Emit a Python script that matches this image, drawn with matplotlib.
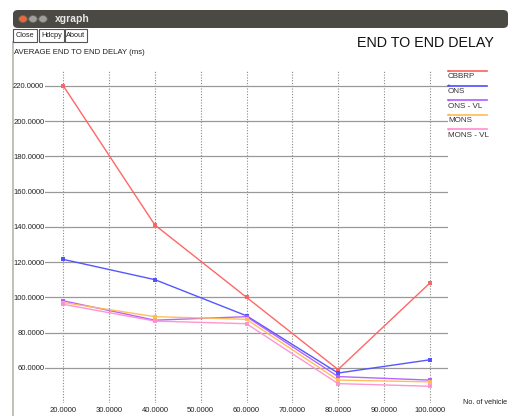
import matplotlib
matplotlib.use('Agg')
import matplotlib.pyplot as plt
from matplotlib.patches import Rectangle, Circle, FancyBboxPatch
from matplotlib.lines import Line2D

plt.rcParams['font.family'] = ['Liberation Sans', 'DejaVu Sans']

vehicles = [20, 40, 60, 80, 100]
cbbrp = [220, 141, 100, 59, 108]
ons = [121.5, 110, 89.5, 57, 64.5]
ons_vl = [98, 87, 89, 55, 53]
mons = [97, 89, 87.5, 53, 52]
mons_vl = [96, 86.5, 85, 51, 49.5]

series_names = ['CBBRP', 'ONS', 'ONS - VL', 'MONS', 'MONS - VL']
series_colors = ['#ff5f5f', '#4d4dff', '#b45aff', '#ffbb55', '#ff8fcf']
x_ticks = [20, 30, 40, 50, 60, 70, 80, 90, 100]
y_ticks = [60, 80, 100, 120, 140, 160, 180, 200, 220]

W, H = 508, 416
fig = plt.figure(figsize=(W / 100, H / 100), dpi=100)
fig.patch.set_facecolor('white')

def fx(px):
    return px / W

def fy(py):
    return 1 - py / H

# window chrome: title bar, buttons, left border
bar = FancyBboxPatch((fx(13), fy(28)), fx(W) - fx(13), fy(10) - fy(28),
                     boxstyle='round,pad=0,rounding_size=0.01',
                     transform=fig.transFigure, facecolor='#4a4944',
                     edgecolor='none', zorder=1)
fig.patches.append(bar)
for cx, col in [(23, '#e8683a'), (33, '#a09f99'), (43, '#a09f99')]:
    fig.patches.append(Circle((fx(cx), fy(19)), 4.2 / W, transform=fig.transFigure,
                              facecolor=col, edgecolor='#6a6964', lw=0.5, zorder=2))
fig.text(fx(55), fy(19.5), 'xgraph', color='#e8e8e8', fontsize=7.5,
         fontweight='bold', va='center', ha='left')

for x0, x1, label in [(13, 37, 'Close'), (39, 64, 'Hdcpy'), (65, 87, 'About')]:
    fig.patches.append(Rectangle((fx(x0), fy(42)), fx(x1) - fx(x0), fy(29) - fy(42),
                                 transform=fig.transFigure, facecolor='white',
                                 edgecolor='#555555', lw=0.8))
    fig.text(fx((x0 + x1) / 2), fy(35.5), label, fontsize=5.3, ha='center',
             va='center', color='#222222')

fig.lines.append(Line2D([fx(13), fx(13)], [fy(42), 0], transform=fig.transFigure,
                        color='#b8b4a8', lw=1.2, zorder=-1))

fig.text(fx(14), fy(53), 'AVERAGE END TO END DELAY (ms)', fontsize=5.6,
         ha='left', va='center', color='#222222')
fig.text(fx(494), fy(43), 'END TO END DELAY', fontsize=10.3,
         ha='right', va='center', color='#111111')
fig.text(fx(463), fy(402), 'No. of vehicle', fontsize=5.3,
         ha='left', va='center', color='#222222')

ax = fig.add_axes([fx(45), fy(403), fx(448) - fx(45), fy(70) - fy(403)])
ax.set_facecolor('white')
ax.set_xlim(16.0, 104)
ax.set_ylim(40, 229)
for s in ax.spines.values():
    s.set_visible(False)

ax.set_xticks(x_ticks)
ax.set_yticks(y_ticks)
ax.set_xticklabels([f'{v:.4f}' for v in x_ticks])
ax.set_yticklabels([f'{v:.4f}' for v in y_ticks])
ax.tick_params(axis='both', length=0, labelsize=5.5, labelcolor='#222222')
ax.tick_params(axis='y', pad=0.5)
ax.tick_params(axis='x', pad=3)
ax.xaxis.grid(True, color='#888888', lw=0.8, ls=(0, (1, 1.5)))
ax.yaxis.grid(True, color='#999999', lw=0.9, ls='-')
ax.set_axisbelow(True)

all_series = [cbbrp, ons, ons_vl, mons, mons_vl]
for vals, col in zip(all_series, series_colors):
    ax.plot(vehicles, vals, color=col, lw=1.0, marker='s', markersize=2.5,
            markeredgewidth=0, alpha=0.95)

# legend drawn as xgraph does: a line above each name
for i, (name, col) in enumerate(zip(series_names, series_colors)):
    ly = 71 + i * 14.6
    fig.lines.append(Line2D([fx(448), fx(487)], [fy(ly), fy(ly)],
                            transform=fig.transFigure, color=col, lw=1.2))
    fig.patches.append(Circle((fx(449), fy(ly)), 1.3 / W, transform=fig.transFigure,
                              facecolor=col, edgecolor='none'))
    fig.text(fx(448), fy(ly + 6), name, fontsize=5.8, ha='left', va='center',
             color='#333333')

fig.savefig('out.png', dpi=100)
